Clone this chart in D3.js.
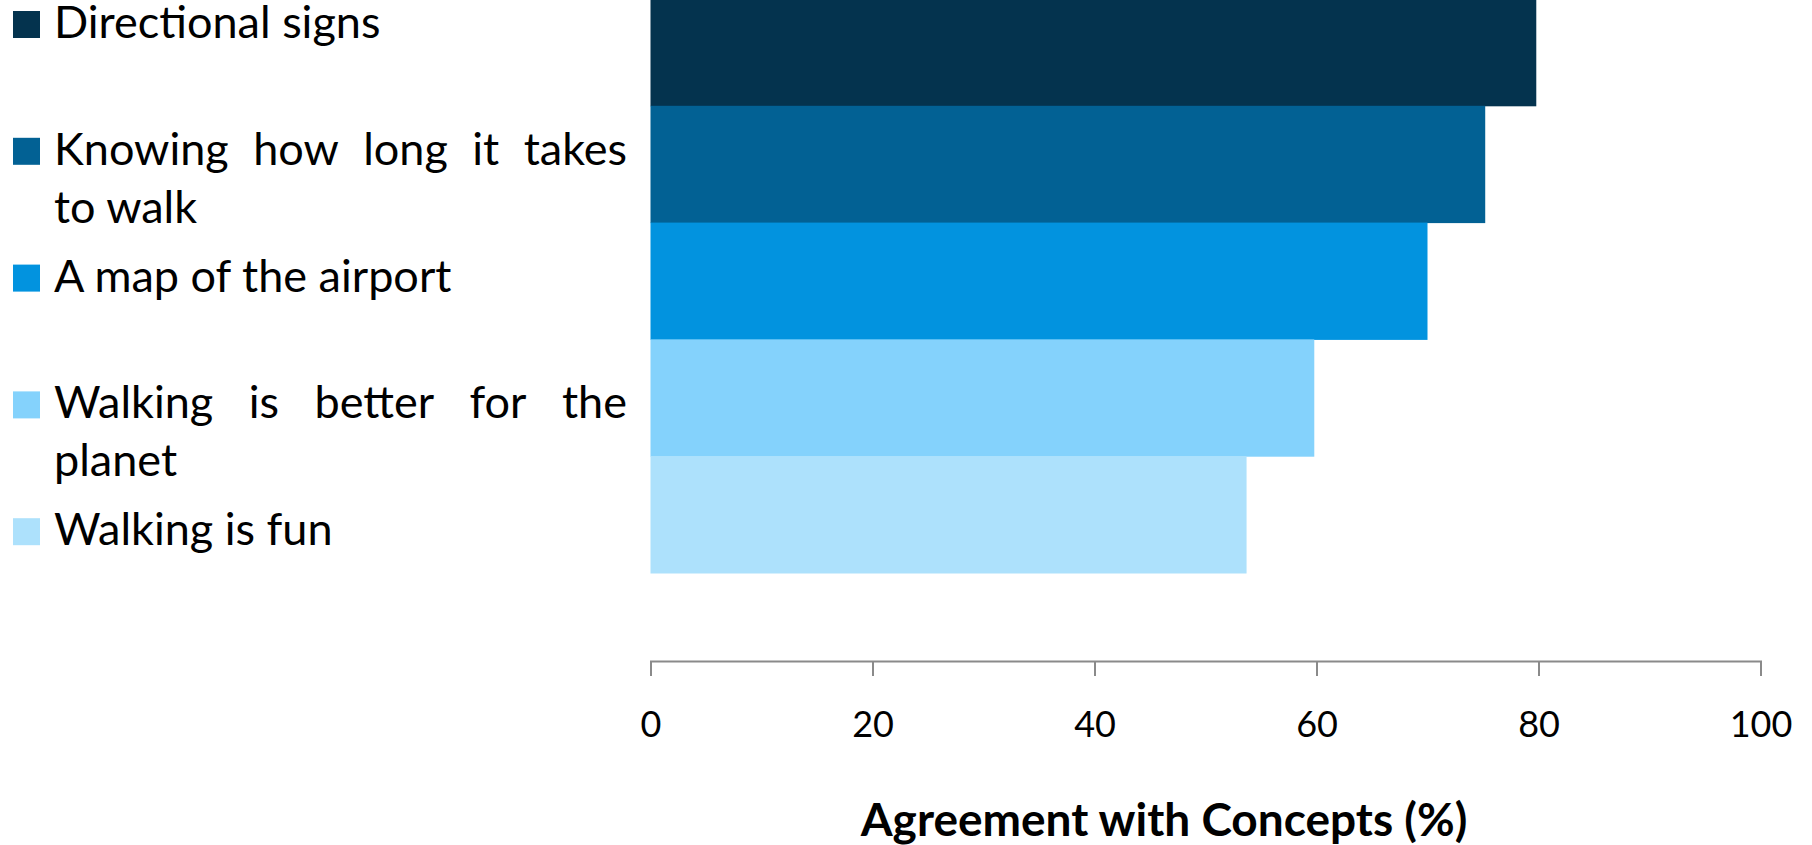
<!DOCTYPE html>
<html>
<head>
<meta charset="utf-8">
<script src="https://cdn.jsdelivr.net/npm/d3@7"></script>
<style>
  body { margin: 0; background: #fff; }
  svg { display: block; font-family: Lato, "Open Sans", sans-serif; }
</style>
</head>
<body>
<div id="chart"></div>
<script>
// chart data
const categories = ["Directional signs", "Knowing how long it takes to walk", "A map of the airport", "Walking is better for the planet", "Walking is fun"];
const values = [79.8, 75.2, 70.0, 59.8, 53.7];
const colors = ["#04334e", "#026194", "#0293df", "#84d2fc", "#ade1fc"];
const legendLines = [
  ["Directional signs"],
  ["Knowing how long it takes", "to walk"],
  ["A map of the airport"],
  ["Walking is better for the", "planet"],
  ["Walking is fun"]
];
const xTicks = [0, 20, 40, 60, 80, 100];
const xTitle = "Agreement with Concepts (%)";

const width = 1812, height = 845;
const axisY = 661;

const svg = d3.select("#chart").append("svg")
  .attr("width", width)
  .attr("height", height);

const x = d3.scaleLinear().domain([0, 100]).range([650.5, 1760.5]);
const y = d3.scaleBand().domain(categories).range([-11, 573]).padding(0);

// bars
svg.selectAll(".bar")
  .data(categories)
  .enter()
  .append("rect")
  .attr("class", "bar")
  .attr("x", x(0))
  .attr("y", d => y(d))
  .attr("width", (d, i) => x(values[i]) - x(0))
  .attr("height", y.bandwidth() + 0.5)
  .attr("fill", (d, i) => colors[i]);

// x axis
const axis = svg.append("g")
  .attr("transform", "translate(0," + axisY + ")")
  .call(d3.axisBottom(x).tickValues(xTicks).tickSize(15).tickPadding(35));
axis.attr("font-family", "Lato, sans-serif").attr("font-size", 36);
axis.select(".domain").attr("stroke", "#8a8a8a").attr("stroke-width", 2);
axis.selectAll(".tick line").attr("stroke", "#8a8a8a").attr("stroke-width", 2);
axis.selectAll(".tick text").attr("fill", "#000");

// axis title
svg.append("text")
  .attr("x", 1164)
  .attr("y", 836)
  .attr("text-anchor", "middle")
  .attr("font-size", 46)
  .attr("font-weight", "bold")
  .attr("fill", "#000")
  .text(xTitle);

// legend with justified wrapped labels
const legendX = 54, legendW = 573, lineH = 58, rowH = 126.8, legendFont = 45;
legendLines.forEach((lines, i) => {
  const base = 38 + i * rowH;
  const g = svg.append("g");
  g.append("rect")
    .attr("x", 13).attr("y", base - 27)
    .attr("width", 27).attr("height", 27)
    .attr("fill", colors[i]);
  lines.forEach((line, k) => {
    const ly = base + k * lineH;
    const last = k === lines.length - 1;
    if (last) {
      g.append("text").attr("x", legendX).attr("y", ly)
        .attr("font-size", legendFont).attr("fill", "#000").text(line);
      return;
    }
    const words = line.split(" ");
    const nodes = words.map(w => g.append("text").attr("y", ly)
      .attr("font-size", legendFont).attr("fill", "#000").text(w));
    const widths = nodes.map(n => n.node().getComputedTextLength());
    const gap = (legendW - d3.sum(widths)) / (words.length - 1);
    let cx = legendX;
    nodes.forEach((n, j) => { n.attr("x", cx); cx += widths[j] + gap; });
  });
});
</script>
</body>
</html>
